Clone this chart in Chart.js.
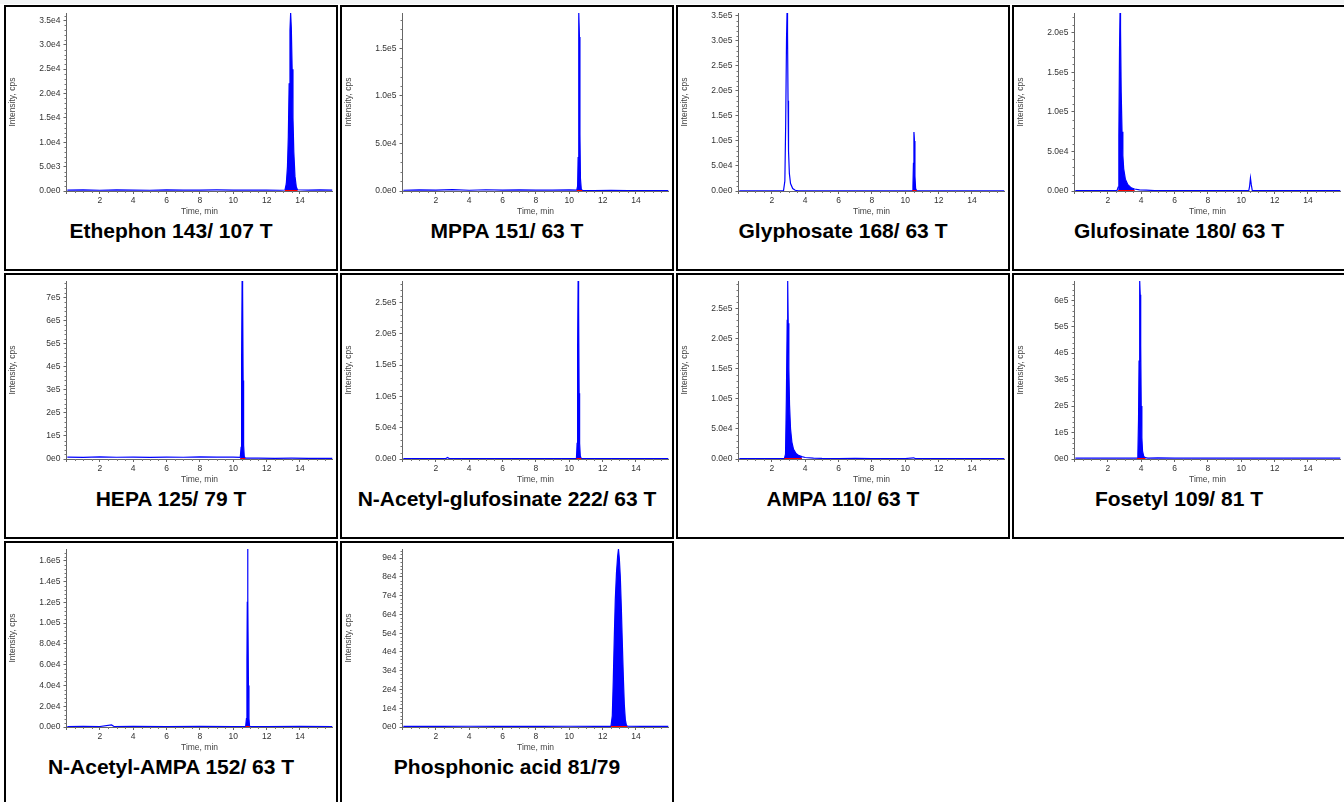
<!DOCTYPE html>
<html><head><meta charset="utf-8">
<script src="https://cdn.jsdelivr.net/npm/chart.js@4.4.1/dist/chart.umd.min.js"></script>
<style>
html,body{margin:0;padding:0;background:#fff;}
body{width:1344px;height:802px;overflow:hidden;position:relative;font-family:Arial,"Liberation Sans",sans-serif;}
#strip{position:absolute;left:0;top:0;width:1344px;height:4px;background:#f2f4f5;}
.panel{position:absolute;width:334px;height:266px;}
.frame{position:absolute;left:0;top:0;width:334px;height:266px;box-sizing:border-box;border:2px solid #000;}
.panel canvas{position:absolute;left:0;top:0;}
.label{position:absolute;left:0;top:214px;width:334px;text-align:center;font:bold 21px Arial,"Liberation Sans",sans-serif;line-height:24px;color:#000;white-space:nowrap;}
</style></head><body>
<div id="strip"></div>
<div id="grid"></div>
<script>
// ---- chart titles ----
const titles = ["Ethephon 143/ 107 T","MPPA 151/ 63 T","Glyphosate 168/ 63 T","Glufosinate 180/ 63 T",
  "HEPA 125/ 79 T","N-Acetyl-glufosinate 222/ 63 T","AMPA 110/ 63 T","Fosetyl 109/ 81 T",
  "N-Acetyl-AMPA 152/ 63 T","Phosphonic acid 81/79"];

// ---- y tick step and label decimals (e.g. 5.0e4 vs 5e4) ----
const yStep = [5000, 50000, 50000, 50000, 100000, 50000, 50000, 100000, 20000, 10000];
const yDecimals = [1, 1, 1, 1, 0, 1, 1, 0, 1, 0];

// ---- x axis (time, min) ----
const xMin = 0, xMax = 15.95, xStep = 2;

// ---- integrated peak windows (start, end in min) ----
const integStart = [13.10, 10.45, 10.42, 2.62, 10.42, 10.43, 2.75, 3.75, 10.74, 12.50];
const integEnd   = [13.85, 10.78, 10.68, 3.60, 10.72, 10.72, 3.80, 4.25, 10.98, 13.48];

// ---- chromatogram traces [time, intensity cps] ----
const ethephonTrace = [[0.05,200],[1,250],[2,150],[3,220],[4,180],[5,150],[6,250],[7,200],[8,180],[9,220],[10,200],[11,180],[12,200],[12.8,150],
  [13.10,200],[13.18,1500],[13.25,5000],[13.30,11000],[13.35,22000],[13.40,33000],[13.44,36500],[13.48,33500],[13.53,25000],[13.58,15000],
  [13.63,8000],[13.70,3000],[13.78,800],[13.85,250],[14.5,200],[15.2,250],[15.95,200]];
const mppaTrace = [[0.05,800],[1,1200],[2,900],[3,1500],[4,800],[5,1300],[6,900],[7,1200],[8,1000],[9,900],[10,1100],[10.45,900],
  [10.50,5000],[10.53,35000],[10.56,150000],[10.58,187000],[10.61,162000],[10.64,60000],[10.67,13000],[10.72,2000],[10.78,600],
  [11.5,500],[12.5,600],[13.5,500],[14.5,500],[15.95,500]];
const glyphosateTrace = [[0.05,300],[1,400],[2,300],[2.6,300],[2.70,800],[2.78,20000],[2.83,135000],[2.88,305000],[2.91,355000],[2.94,315000],
  [2.97,180000],[3.00,80000],[3.05,35000],[3.12,15000],[3.25,5000],[3.4,1500],[3.6,500],[4.5,400],[6,300],[8,300],[10,300],
  [10.42,300],[10.46,10000],[10.49,55000],[10.52,117500],[10.55,100000],[10.58,30000],[10.62,5000],[10.68,400],[12,300],[14,300],[15.95,300]];
const glufosinateTrace = [[0.05,500],[1,600],[2,500],[2.55,600],[2.62,5000],[2.66,70000],[2.70,180000],[2.73,225000],[2.76,205000],[2.80,125000],
  [2.85,75000],[2.90,45000],[2.95,28000],[3.05,15000],[3.2,8000],[3.4,4000],[3.6,2500],[3.9,1500],[4.3,1000],[4.8,600],[5.5,500],[7,500],[9,500],
  [10.45,500],[10.50,6000],[10.55,16400],[10.60,8000],[10.66,600],[12,500],[14,500],[15.95,500]];
const hepaTrace = [[0.05,8000],[1,7000],[2,9000],[3,7500],[4,8500],[5,7000],[6,8000],[7,7500],[8,9000],[9,8000],[10,8500],[10.42,7000],
  [10.47,50000],[10.50,440000],[10.53,770000],[10.56,730000],[10.59,340000],[10.62,60000],[10.66,10000],[10.72,4000],
  [11.5,3500],[12.5,3000],[13.5,3500],[14.5,3000],[15.95,3000]];
const nAcGlufosinateTrace = [[0.05,600],[1,700],[2,600],[2.6,700],[2.7,2500],[2.8,700],[4,600],[6,600],[8,700],[10,600],[10.43,600],
  [10.47,25000],[10.50,180000],[10.53,284000],[10.56,245000],[10.59,105000],[10.62,25000],[10.66,5000],[10.72,600],[12,600],[14,600],[15.95,600]];
const ampaTrace = [[0.05,600],[1,700],[2,600],[2.75,700],[2.82,8000],[2.87,100000],[2.92,230000],[2.95,295000],[2.98,225000],[3.02,150000],
  [3.06,90000],[3.12,50000],[3.2,28000],[3.3,16000],[3.45,9000],[3.6,6000],[3.8,4000],[4.0,2500],[4.5,1500],[5.0,1000],[6,800],[7,900],
  [8,700],[9,800],[10,700],[10.5,2000],[10.6,700],[12,600],[14,600],[15.95,600]];
const fosetylTrace = [[0.05,3000],[1,3500],[2,3000],[3,3500],[3.75,3500],[3.80,20000],[3.84,150000],[3.87,370000],[3.90,600000],[3.92,672000],
  [3.94,620000],[3.97,430000],[4.00,200000],[4.04,80000],[4.08,30000],[4.15,10000],[4.25,5000],[4.4,3500],[5,4000],[6,3000],[8,3500],
  [10,3000],[12,3500],[14,3000],[15.95,3500]];
const nAcAmpaTrace = [[0.05,500],[1,600],[2,500],[2.7,2000],[2.85,500],[4,600],[6,500],[8,600],[10,500],[10.74,500],[10.79,8000],[10.82,65000],
  [10.84,120000],[10.86,171300],[10.88,125000],[10.91,40000],[10.94,8000],[10.98,500],[12,500],[14,600],[15.95,500]];
const phosphonicTrace = [[0.05,300],[1,400],[2,300],[4,400],[6,300],[8,300],[10,400],[12,300],[12.50,300],[12.58,6000],[12.64,25000],
  [12.70,48000],[12.76,68000],[12.83,82000],[12.90,91000],[12.95,94800],[13.00,90000],[13.06,80000],[13.12,64000],[13.18,45000],
  [13.24,27000],[13.30,12000],[13.36,4000],[13.42,1200],[13.48,400],[14.5,300],[15.95,300]];

const traces = [ethephonTrace, mppaTrace, glyphosateTrace, glufosinateTrace, hepaTrace,
  nAcGlufosinateTrace, ampaTrace, fosetylTrace, nAcAmpaTrace, phosphonicTrace];

// ---- layout ----
const panelLefts = [4, 340, 676, 1012];
const panelTops = [5, 273, 541];
const FONT = 'Arial, "Liberation Sans", sans-serif';

const minorTicks = {
  id: 'minorTicks',
  beforeDatasetsDraw(chart, args, opts) {
    const {ctx, chartArea: a} = chart;
    const x = chart.scales.x, y = chart.scales.y;
    ctx.save();
    ctx.strokeStyle = '#777';
    ctx.lineWidth = 1;
    ctx.beginPath();
    const ys = opts.step / 5;
    for (let k = 1; k * ys <= y.max; k++) {
      if (k % 5 === 0) continue;
      const p = Math.round(y.getPixelForValue(k * ys)) + 0.5;
      ctx.moveTo(a.left - 2, p); ctx.lineTo(a.left, p);
    }
    for (let k = 1; k * 0.5 < x.max; k++) {
      if (k % 4 === 0) continue;
      const p = Math.round(x.getPixelForValue(k * 0.5)) + 0.5;
      ctx.moveTo(p, a.bottom); ctx.lineTo(p, a.bottom + 2);
    }
    ctx.stroke();
    ctx.restore();
  }
};

const grid = document.getElementById('grid');
traces.forEach((tr, i) => {
  const col = i % 4, row = Math.floor(i / 4);
  const panel = document.createElement('div');
  panel.className = 'panel';
  panel.style.left = panelLefts[col] + 'px';
  panel.style.top = panelTops[row] + 'px';
  const frame = document.createElement('div'); frame.className = 'frame';
  const cv = document.createElement('canvas'); cv.width = 334; cv.height = 214;
  cv.style.width = '334px'; cv.style.height = '214px';
  const lab = document.createElement('div'); lab.className = 'label'; lab.textContent = titles[i];
  panel.appendChild(frame); panel.appendChild(cv); panel.appendChild(lab);
  grid.appendChild(panel);

  const pts = tr.map(p => ({x: p[0], y: p[1]}));
  const peak = pts.filter(p => p.x >= integStart[i] && p.x <= integEnd[i]);
  const base = [{x: integStart[i], y: 0}, {x: integEnd[i], y: 0}];
  const yMaxVal = Math.max(...tr.map(p => p[1]));
  const dec = yDecimals[i];
  const step = yStep[i];

  new Chart(cv, {
    type: 'line',
    data: {
      datasets: [
        {data: base, borderColor: '#ff0000', borderWidth: 2, pointRadius: 0, fill: false, order: 0},
        {data: pts, borderColor: '#0000ff', borderWidth: 1.2, pointRadius: 0, fill: false, tension: 0, order: 1},
        {data: peak, borderColor: 'rgba(0,0,255,0)', borderWidth: 0, backgroundColor: '#0000ff', pointRadius: 0, fill: 'origin', tension: 0, order: 2}
      ]
    },
    options: {
      responsive: false, animation: false, events: [],
      layout: {padding: {top: 8, right: 5.5, bottom: 0, left: 0}},
      plugins: {legend: {display: false}, tooltip: {enabled: false}, minorTicks: {step: step}},
      scales: {
        x: {
          type: 'linear', min: xMin, max: xMax,
          afterFit: s => { s.height = 28; },
          border: {display: true, color: '#666', width: 1},
          grid: {display: true, drawOnChartArea: false, drawTicks: true, tickLength: 3, tickColor: '#666'},
          ticks: {stepSize: xStep, includeBounds: false, autoSkip: false, maxRotation: 0, padding: 2, color: '#333',
                  font: {family: FONT, size: 8.5}, callback: v => v === 0 ? '' : String(v)},
          title: {display: true, text: 'Time, min', color: '#444', font: {family: FONT, size: 8.5}, padding: {top: 0, bottom: 2}}
        },
        y: {
          type: 'linear', min: 0, max: yMaxVal,
          afterBuildTicks: s => {
            const t = [];
            for (let k = 0; k * step <= s.max; k++) t.push({value: k * step});
            s.ticks = t;
          },
          afterFit: s => { s.width = 62.5; },
          border: {display: true, color: '#666', width: 1},
          grid: {display: true, drawOnChartArea: false, drawTicks: true, tickLength: 3, tickColor: '#666'},
          ticks: {autoSkip: false, padding: 3, color: '#333',
                  font: {family: FONT, size: 8.5}, callback: v => Number(v).toExponential(dec).replace('e+', 'e')},
          title: {display: true, text: 'Intensity, cps', color: '#444', font: {family: FONT, size: 8.5}, padding: {top: 4, bottom: 0}}
        }
      }
    },
    plugins: [minorTicks]
  });
});
</script>
</body></html>
